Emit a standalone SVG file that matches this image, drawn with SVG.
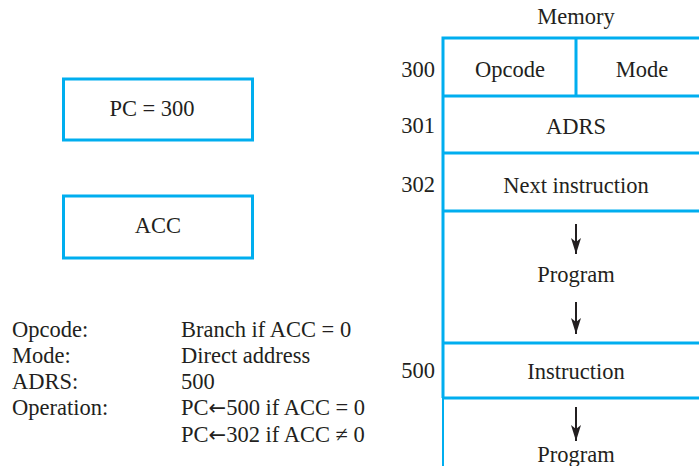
<svg xmlns="http://www.w3.org/2000/svg" width="699" height="466" viewBox="0 0 699 466">
<style>
text{font-family:"Liberation Serif","Times New Roman",serif;font-size:22.5px;fill:#231f20}
.c{text-anchor:middle}
.r{text-anchor:end}
.sym{font-family:"DejaVu Sans",sans-serif;font-size:21px}
.box{fill:#fff;stroke:#00aeef;stroke-width:3}
.ln{stroke:#00aeef;stroke-width:3;fill:none}
.ln2{stroke:#00aeef;stroke-width:2;fill:none}
.ar{stroke:#231f20;stroke-width:2;fill:none}
</style>
<defs>
<marker id="ah" markerWidth="16" markerHeight="10" refX="16" refY="5" orient="auto" markerUnits="userSpaceOnUse" viewBox="0 0 16 10">
<path d="M0,0 L16,5 L0,10 L4,5 Z" fill="#231f20"/>
</marker>
</defs>
<rect width="699" height="466" fill="#fff"/>
<g id="pc"><rect class="box" x="63.5" y="79" width="189" height="61"/><text class="c" x="152" y="116">PC = 300</text></g>
<g id="acc"><rect class="box" x="63.5" y="196" width="189" height="62"/><text class="c" x="158" y="233">ACC</text></g>
<g id="memory">
<text class="c" x="576" y="24">Memory</text>
<path class="ln" d="M443,398 V38 H699 M443,96 H699 M443,153 H699 M443,211 H699 M443,343 H699 M443,398 H699 M576,38 V96"/>
<path class="ln2" d="M443,398 V466"/>
<text class="r" x="435" y="77">300</text>
<text class="r" x="435" y="133">301</text>
<text class="r" x="435" y="192">302</text>
<text class="r" x="435" y="378">500</text>
<text class="c" x="510" y="77">Opcode</text>
<text class="c" x="642" y="77">Mode</text>
<text class="c" x="576" y="134">ADRS</text>
<text class="c" x="576" y="193">Next instruction</text>
<text class="c" x="576" y="282">Program</text>
<text class="c" x="576" y="379">Instruction</text>
<text class="c" x="576" y="462">Program</text>
</g>
<g id="connectors">
<line class="ar" x1="576" y1="224" x2="576" y2="254" marker-end="url(#ah)"/>
<line class="ar" x1="576" y1="302" x2="576" y2="334" marker-end="url(#ah)"/>
<line class="ar" x1="576" y1="407" x2="576" y2="441" marker-end="url(#ah)"/>
</g>
<g id="legend">
<text x="12" y="337">Opcode:</text>
<text x="12" y="363">Mode:</text>
<text x="12" y="389">ADRS:</text>
<text x="12" y="415">Operation:</text>
<text x="181" y="337">Branch if ACC = 0</text>
<text x="181" y="363">Direct address</text>
<text x="181" y="389">500</text>
<text x="181" y="415">PC<tspan class="sym">←</tspan>500 if ACC = 0</text>
<text x="181" y="442">PC<tspan class="sym">←</tspan>302 if ACC ≠ 0</text>
</g>
</svg>
